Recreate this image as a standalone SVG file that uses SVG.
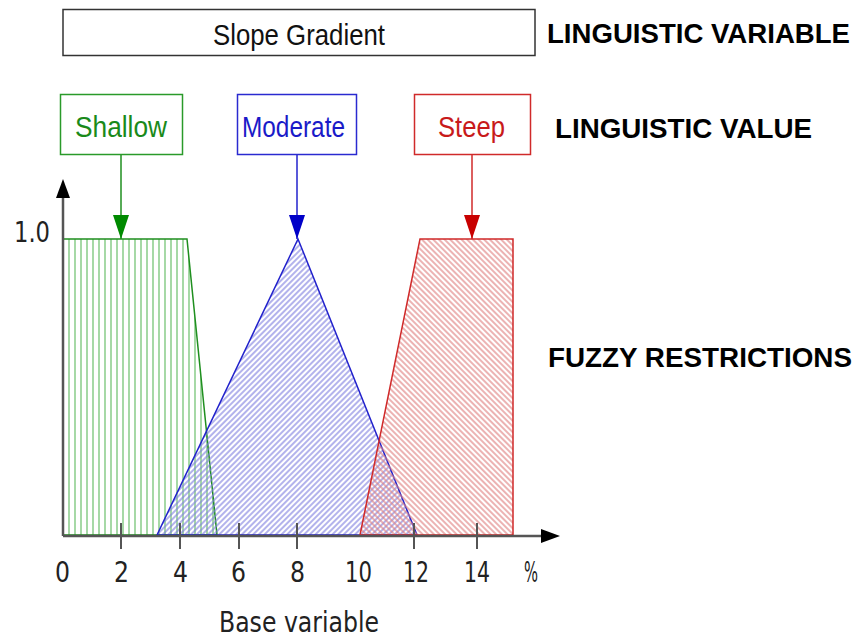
<svg xmlns="http://www.w3.org/2000/svg" width="858" height="639" viewBox="0 0 858 639">
<style>
.lbl{font-family:"Liberation Sans",Arial,sans-serif;font-size:29px}
.hd{font-family:"Liberation Sans",Arial,sans-serif;font-size:27px;font-weight:bold;fill:#000}
.num{font-family:"DejaVu Sans","Liberation Sans",sans-serif;font-size:28px;fill:#222}
.tick{stroke:#555;stroke-width:2}
</style>
<defs>
<pattern id="hG" width="6" height="10" patternUnits="userSpaceOnUse"><line x1="3" y1="0" x2="3" y2="10" stroke="#80c880" stroke-width="1.4"/></pattern>
<pattern id="hB" width="4" height="4" patternUnits="userSpaceOnUse" patternTransform="rotate(45)"><line x1="1" y1="0" x2="1" y2="4" stroke="#8080e0" stroke-width="1.2"/></pattern>
<pattern id="hR" width="4" height="4" patternUnits="userSpaceOnUse" patternTransform="rotate(-45)"><line x1="1" y1="0" x2="1" y2="4" stroke="#e08080" stroke-width="1.2"/></pattern>
<marker id="aG" markerWidth="24" markerHeight="16" refX="24" refY="8" orient="auto" markerUnits="userSpaceOnUse" viewBox="0 0 24 16"><path d="M0,0 L24,8 L0,16 z" fill="#008a00"/></marker>
<marker id="aB" markerWidth="24" markerHeight="16" refX="24" refY="8" orient="auto" markerUnits="userSpaceOnUse" viewBox="0 0 24 16"><path d="M0,0 L24,8 L0,16 z" fill="#0000c8"/></marker>
<marker id="aR" markerWidth="24" markerHeight="16" refX="24" refY="8" orient="auto" markerUnits="userSpaceOnUse" viewBox="0 0 24 16"><path d="M0,0 L24,8 L0,16 z" fill="#c80000"/></marker>
</defs>
<rect width="858" height="639" fill="#fff"/>

<g id="variable">
<rect x="63" y="9.5" width="472" height="46" fill="#fff" stroke="#333" stroke-width="1.5"/>
<text class="lbl" x="213" y="45" fill="#111" textLength="172" lengthAdjust="spacingAndGlyphs">Slope Gradient</text>
</g>
<text class="hd" x="547" y="43" textLength="303" lengthAdjust="spacingAndGlyphs">LINGUISTIC VARIABLE</text>
<text class="hd" x="555" y="138" textLength="257" lengthAdjust="spacingAndGlyphs">LINGUISTIC VALUE</text>
<text class="hd" x="548" y="367" textLength="304" lengthAdjust="spacingAndGlyphs">FUZZY RESTRICTIONS</text>

<g id="shallow-box">
<rect x="60.5" y="94.5" width="122" height="60" fill="#fff" stroke="#2a9a2a" stroke-width="1.5"/>
<text class="lbl" x="75" y="137" fill="#1a8a1a" textLength="92" lengthAdjust="spacingAndGlyphs">Shallow</text>
</g>
<g id="moderate-box">
<rect x="237.5" y="94.5" width="119" height="60" fill="#fff" stroke="#2a2ad0" stroke-width="1.5"/>
<text class="lbl" x="242" y="137" fill="#1a1ac8" textLength="103" lengthAdjust="spacingAndGlyphs">Moderate</text>
</g>
<g id="steep-box">
<rect x="414.5" y="94.5" width="116" height="60" fill="#fff" stroke="#d02a2a" stroke-width="1.5"/>
<text class="lbl" x="438" y="137" fill="#c81a1a" textLength="67" lengthAdjust="spacingAndGlyphs">Steep</text>
</g>

<g id="shallow-set">
<polygon points="63,239 187,239 217,535 63,535" fill="url(#hG)" stroke="#1f8f1f" stroke-width="1.5"/>
</g>
<g id="moderate-set">
<polygon points="157,535 298,239 417,535" fill="url(#hB)" stroke="#2222cc" stroke-width="1.5"/>
</g>
<g id="steep-set">
<polygon points="360,535 420,239 513,239 513,535" fill="url(#hR)" stroke="#d02a2a" stroke-width="1.5"/>
</g>

<g id="connectors">
<line x1="121" y1="155" x2="121" y2="239" stroke="#1f8f1f" stroke-width="1.5" marker-end="url(#aG)"/>
<line x1="297" y1="155" x2="297" y2="239" stroke="#2222cc" stroke-width="1.5" marker-end="url(#aB)"/>
<line x1="472" y1="155" x2="472" y2="239" stroke="#d02a2a" stroke-width="1.5" marker-end="url(#aR)"/>
</g>

<g id="axes">
<line x1="63" y1="536" x2="545" y2="536" stroke="#555" stroke-width="2.5"/>
<path d="M541,529 L560,536 L541,543 z" fill="#000"/>
<line x1="63" y1="536" x2="63" y2="195" stroke="#555" stroke-width="2.5"/>
<path d="M56,198 L63,179 L70,198 z" fill="#000"/>
<line class="tick" x1="121" y1="523" x2="121" y2="549"/>
<line class="tick" x1="180" y1="523" x2="180" y2="549"/>
<line class="tick" x1="239" y1="523" x2="239" y2="549"/>
<line class="tick" x1="297" y1="523" x2="297" y2="549"/>
<line class="tick" x1="414" y1="523" x2="414" y2="549"/>
<line class="tick" x1="477" y1="523" x2="477" y2="549"/>
<text class="num" x="14" y="242" textLength="36" lengthAdjust="spacingAndGlyphs">1.0</text>
<text class="num" x="55" y="582" textLength="15" lengthAdjust="spacingAndGlyphs">0</text>
<text class="num" x="114" y="582" textLength="15" lengthAdjust="spacingAndGlyphs">2</text>
<text class="num" x="173" y="582" textLength="15" lengthAdjust="spacingAndGlyphs">4</text>
<text class="num" x="231" y="582" textLength="15" lengthAdjust="spacingAndGlyphs">6</text>
<text class="num" x="290" y="582" textLength="15" lengthAdjust="spacingAndGlyphs">8</text>
<text class="num" x="345" y="582" textLength="27" lengthAdjust="spacingAndGlyphs">10</text>
<text class="num" x="403" y="582" textLength="26" lengthAdjust="spacingAndGlyphs">12</text>
<text class="num" x="464" y="582" textLength="26" lengthAdjust="spacingAndGlyphs">14</text>
<text class="num" x="524" y="582" textLength="14" lengthAdjust="spacingAndGlyphs">%</text>
<text class="num" x="219" y="632" textLength="160" lengthAdjust="spacingAndGlyphs">Base variable</text>
</g>
</svg>
